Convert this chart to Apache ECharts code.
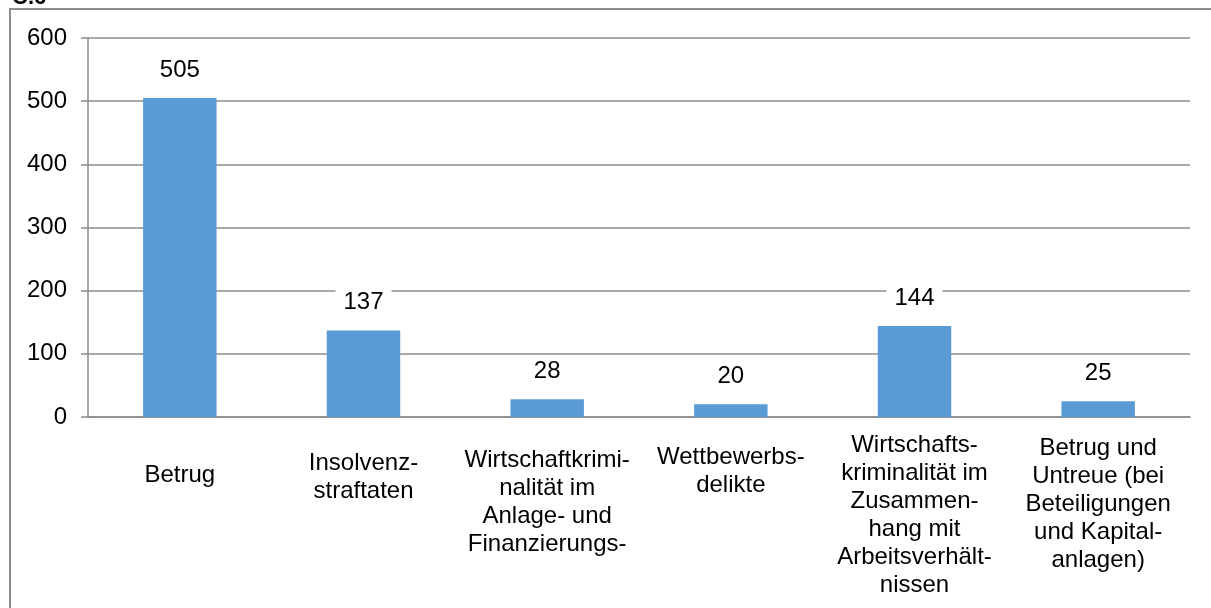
<!DOCTYPE html>
<html>
<head>
<meta charset="utf-8">
<script src="https://cdn.jsdelivr.net/npm/echarts@6/dist/echarts.min.js"></script>
<style>
  html, body { margin: 0; padding: 0; background: #fff; }
  #mainChart { width: 1211px; height: 608px; }
</style>
</head>
<body>
<div id="mainChart"></div>
<script>
var categories = [
  "Betrug",
  "Insolvenz-\nstraftaten",
  "Wirtschaftkrimi-\nnalität im\nAnlage- und\nFinanzierungs-",
  "Wettbewerbs-\ndelikte",
  "Wirtschafts-\nkriminalität im\nZusammen-\nhang mit\nArbeitsverhält-\nnissen",
  "Betrug und\nUntreue (bei\nBeteiligungen\nund Kapital-\nanlagen)"
];
var values = [505, 137, 28, 20, 144, 25];
var yTicks = [0, 100, 200, 300, 400, 500, 600];

var chart = echarts.init(document.getElementById("mainChart"));

// Excel places the wrapped labels a bit differently per category
var labelTop = [44, 32, 29, 26, 14, 17];

var option = {
  animation: false,
  textStyle: { fontFamily: "Liberation Sans, Arial, sans-serif" },
  graphic: [
    {
      type: "rect",
      shape: { x: 10, y: 9, width: 1400, height: 800 },
      style: { fill: "none", stroke: "#8c8c8c", lineWidth: 2 },
      silent: true
    },
    {
      type: "text",
      left: 12,
      top: -13,
      style: {
        text: "C.6",
        fill: "#000",
        font: "bold 22px Liberation Sans, Arial, sans-serif"
      }
    }
  ],
  grid: {
    left: 88,
    right: 21,
    top: 38,
    bottom: 191,
    containLabel: false
  },
  xAxis: {
    type: "category",
    data: categories.map(function (c, i) {
      return { value: c, textStyle: { padding: [labelTop[i], 0, 0, 0] } };
    }),
    axisTick: { show: false },
    axisLine: { show: true, lineStyle: { color: "#8c8c8c", width: 1.5 } },
    axisLabel: {
      interval: 0,
      margin: 0,
      color: "#000",
      fontSize: 24,
      lineHeight: 28,
      align: "center",
      verticalAlign: "top"
    }
  },
  yAxis: {
    type: "value",
    min: yTicks[0],
    max: yTicks[yTicks.length - 1],
    interval: 100,
    axisLine: { show: true, lineStyle: { color: "#8c8c8c", width: 1.5 } },
    axisTick: { show: true, length: 7, lineStyle: { color: "#8c8c8c", width: 1.5 } },
    axisLabel: { color: "#000", fontSize: 24, margin: 21 },
    splitLine: { show: true, lineStyle: { color: "#8c8c8c", width: 1.5 } }
  },
  series: [
    {
      type: "bar",
      data: values,
      barWidth: "40%",
      itemStyle: { color: "#5b9bd5" },
      label: {
        show: true,
        position: "top",
        distance: 12,
        color: "#000",
        fontSize: 24,
        backgroundColor: "#fff",
        padding: [4, 8]
      }
    }
  ]
};
chart.setOption(option);
</script>
</body>
</html>
